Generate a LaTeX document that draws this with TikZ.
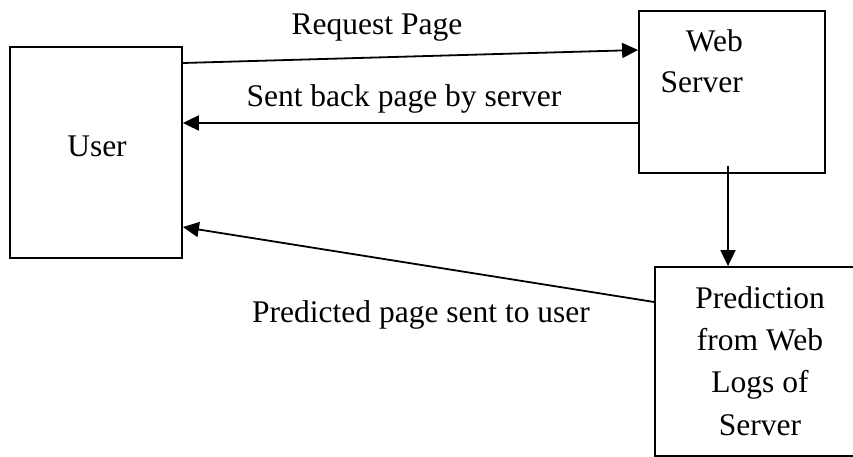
\documentclass[tikz,border=0pt]{standalone}
\usepackage{fontspec}
\setmainfont{Liberation Serif}
\usetikzlibrary{arrows.meta}
\begin{document}
\begin{tikzpicture}[x=1pt,y=-1pt,
  box/.style={draw, line width=1.8pt, inner sep=0pt},
  lbl/.style={anchor=base, inner sep=0pt, font=\fontsize{31.5}{42}\selectfont},
  conn/.style={line width=1.8pt, -{Triangle[length=16pt,width=15pt]}}]
\useasboundingbox (0,0) rectangle (853,457);
\clip (0,0) rectangle (853,457);
% boxes
\node[box, minimum width=172pt, minimum height=211pt] (user) at (96,152.5) {};
\node[box, minimum width=186pt, minimum height=162pt] (ws) at (732,92) {};
\node[box, minimum width=210pt, minimum height=189pt] (pred) at (760,361.5) {};
% box texts
\node[lbl] (tuser) at (97,157) {User};
\node[lbl, anchor=base east] (tweb) at (743,52) {Web};
\node[lbl, anchor=base east] (tserver) at (743,93) {Server};
\node[lbl] (tp1) at (760,308) {Prediction};
\node[lbl] (tp2) at (760,350) {from Web};
\node[lbl] (tp3) at (760,392) {Logs of};
\node[lbl] (tp4) at (760,435) {Server};
% connector labels
\node[lbl] (lreq) at (377,35) {Request Page};
\node[lbl] (lsent) at (404,107) {Sent back page by server};
\node[lbl] (lpred) at (421,322) {Predicted page sent to user};
% helper coordinates
\coordinate (h1) at (0,63);
\coordinate (h2) at (0,50);
\coordinate (h3) at (0,123);
\coordinate (h4) at (728,0);
\coordinate (h5) at (0,302);
\coordinate (h6) at (0,227);
% connectors
\draw[conn] (user.east |- h1) -- (ws.west |- h2);
\draw[conn] (ws.west |- h3) -- (user.east |- h3);
\draw[conn, shorten <=-8pt] (h4 |- ws.south) -- (h4 |- pred.north);
\draw[conn] (pred.west |- h5) -- (user.east |- h6);
\end{tikzpicture}
\end{document}
